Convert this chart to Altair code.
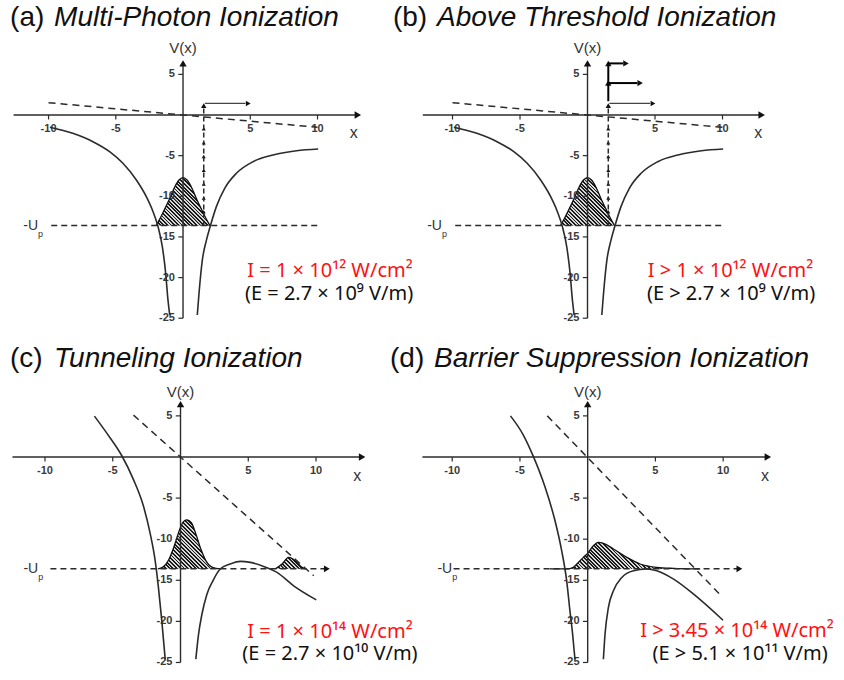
import math
import altair as alt
import pandas as pd

# ---------------- values ----------------
X_TICKS = [-10, -5, 5, 10]
X_TICK_LABELS = ["-10", "-5", "5", "10"]
Y_TICKS = [5, -5, -10, -15, -20, -25]
Y_TICK_LABELS = ["5", "-5", "-10", "-15", "-20", "-25"]
UP_LEVEL = -13.6  # -U_p

# (a), (b): Coulomb well in a weak field
AB_LEFT_X = [-9.9, -8.2, -6.7, -5.46, -4.47, -3.47, -2.73, -2.23, -1.86, -1.54, -1.29, -1.12, -0.99]
AB_LEFT_Y = [-1.5, -2.25, -3.28, -4.51, -5.94, -7.99, -10.04, -11.89, -13.73, -16.19, -19.47, -22.75, -24.6]
AB_RIGHT_X = [1.06, 1.19, 1.44, 1.74, 2.03, 2.48, 3.10, 3.97, 5.21, 6.70, 8.44, 10.05]
AB_RIGHT_Y = [-24.6, -21.9, -17.8, -15.4, -13.65, -11.27, -9.02, -7.17, -5.74, -4.92, -4.39, -4.18]
AB_FIELD_X = [-10.0, 10.0]
AB_FIELD_Y = [1.52, -1.52]
AB_WP_X = [-2.0, -1.7, -1.4, -1.0, -0.6, -0.3, 0.0, 0.3, 0.6, 1.0, 1.4, 1.7, 2.0]
AB_WP_Y = [-13.6, -12.7, -11.7, -10.3, -8.8, -8.0, -7.7, -8.0, -8.8, -10.3, -11.7, -12.7, -13.6]
MP_X = 1.54
MP_STEPS_Y = [-11.9, -10.2, -8.5, -6.8, -5.1, -3.4, -1.7]
MP_TOP_Y = 1.15
ELECTRON_Y = 1.43
ELECTRON_X = [1.62, 4.85]
ATI_LINE_Y = [1.7, 6.35]
ATI_STEPS_Y = [3.93, 6.35]
ATI_X_END = [3.9, 2.85]

# (c): tunneling
C_LEFT_X = [-6.35, -5.44, -4.33, -3.47, -2.73, -2.24, -1.87, -1.63, -1.38, -1.13]
C_LEFT_Y = [4.97, 2.9, 0.15, -2.75, -6.0, -9.3, -12.62, -15.87, -19.94, -24.6]
C_RIGHT_X = [1.13, 1.33, 1.58, 1.95, 2.39, 2.93, 3.67, 4.41, 5.15, 6.13, 7.12, 8.35, 10.02]
C_RIGHT_Y = [-24.6, -21.57, -19.13, -16.69, -15.06, -13.63, -13.02, -12.70, -12.82, -13.31, -14.04, -15.67, -17.38]
C_FIELD_X = [-3.47, 9.83]
C_FIELD_Y = [5.09, -14.45]
C_WP_X = [-1.67, -1.3, -0.9, -0.5, -0.1, 0.2, 0.47, 0.8, 1.1, 1.5, 1.9, 2.4, 2.93]
C_WP_Y = [-13.6, -13.4, -12.6, -11.0, -9.0, -7.9, -7.65, -8.0, -9.2, -11.2, -12.7, -13.45, -13.6]
C_WP2_X = [7.0, 7.49, 7.98, 8.47, 8.97, 9.21]
C_WP2_Y = [-13.6, -13.02, -12.21, -12.62, -13.43, -13.6]

# (d): barrier suppression
D_LEFT_X = [-5.70, -4.76, -4.02, -3.16, -2.42, -1.92, -1.55, -1.31, -1.11, -0.94]
D_LEFT_Y = [5.0, 2.7, 0.1, -3.6, -7.7, -11.4, -15.06, -18.72, -21.57, -24.6]
D_RIGHT_X = [1.16, 1.28, 1.53, 1.90, 2.52, 3.38, 4.36, 5.10, 6.34, 7.82, 9.99]
D_RIGHT_Y = [-24.6, -21.57, -18.3, -16.28, -14.65, -13.84, -13.63, -13.84, -14.86, -16.69, -19.86]
D_FIELD_X = [-2.98, 9.79]
D_FIELD_Y = [5.0, -16.77]
D_WP_X = [-2.8, -1.43, -1.06, -0.69, -0.32, 0.0, 0.42, 0.79, 1.16, 1.90, 2.89, 3.87, 5.10, 6.34, 7.5, 8.3]
D_WP_Y = [-13.6, -13.6, -13.43, -12.82, -12.21, -11.72, -10.79, -10.38, -10.5, -11.19, -12.21, -13.02, -13.43, -13.55, -13.6, -13.6]

TAGS = ["(a)", "(b)", "(c)", "(d)"]
NAMES = ["Multi-Photon Ionization", "Above Threshold Ionization",
         "Tunneling Ionization", "Barrier Suppression Ionization"]
INTENSITY = ["I = 1 × 10¹² W/cm²", "I > 1 × 10¹² W/cm²",
             "I = 1 × 10¹⁴ W/cm²", "I > 3.45 × 10¹⁴ W/cm²"]
FIELD_TXT = ["(E = 2.7 × 10⁹ V/m)", "(E > 2.7 × 10⁹ V/m)",
             "(E = 2.7 × 10¹⁰ V/m)", "(E > 5.1 × 10¹¹ V/m)"]

# ---------------- layout / style ----------------
FONT = "Liberation Sans"
NOTE_FONT = "Noto Sans"
INK = "#2b2b2b"

PANELS = [
    dict(W=422, H=340, xdom=[-13.61, 17.77], ydom=[-27.68, 14.15], xa=[-12.6, 13.0], ytop=6.35,
         xlab=(12.7, -2.2), vx=8.24, tag=(-12.86, 10.95), upx=-10.78, up_line=[-9.8, 10.05], up_arrow=False,
         txt=[(10.93, -19.2), (10.86, -22.05)]),
    dict(W=422, H=340, xdom=[-12.26, 19.0], ydom=[-27.68, 14.15], xa=[-12.2, 12.9], ytop=6.35,
         xlab=(12.65, -2.2), vx=8.24, tag=(-14.41, 10.95), upx=-10.78, up_line=[-9.8, 10.05], up_arrow=False,
         txt=[(10.59, -19.2), (10.63, -22.05)]),
    dict(W=422, H=340, xdom=[-13.32, 17.82], ydom=[-27.13, 14.23], xa=[-12.4, 13.4], ytop=6.43,
         xlab=(13.05, -2.3), vx=7.94, tag=(-12.58, 10.95), upx=-10.5, up_line=[-9.6, 10.8], up_arrow=True,
         txt=[(11.03, -21.3), (11.03, -24.0)]),
    dict(W=422, H=340, xdom=[-12.23, 18.92], ydom=[-27.13, 14.23], xa=[-12.2, 13.3], ytop=6.43,
         xlab=(13.08, -2.3), vx=7.94, tag=(-14.59, 10.95), upx=-10.0, up_line=[-9.9, 11.2], up_arrow=True,
         txt=[(11.02, -21.2), (11.25, -24.0)]),
]


def hatch(xv, yv, base, c, spacing=2.6, dark="#1a1a1a", light="#d8d8d8"):
    pxx = c["W"] / (c["xdom"][1] - c["xdom"][0])
    pxy = c["H"] / (c["ydom"][1] - c["ydom"][0])
    w = (max(xv) - min(xv)) * pxx
    h = (max(yv) - base) * pxy
    r = h / w
    a = (1 + r) / (1 + r * r)
    n = max(4, round((w + h) / (math.sqrt(2) * spacing)))
    stops = []
    for k in range(n):
        o0, o1, o2 = k / n, (k + 0.5) / n, (k + 1) / n
        stops += [{"color": dark, "offset": round(o0, 4)}, {"color": dark, "offset": round(o1, 4)},
                  {"color": light, "offset": round(o1 + 1e-4, 4)}, {"color": light, "offset": round(o2 - 1e-4, 4)}]
    return alt.LinearGradient(gradient="linear", stops=[alt.GradientStop(**s) for s in stops],
                              x1=0, y1=1, x2=round(a, 4), y2=round(1 - a * r, 4))


def lines_df(groups):
    rows = []
    for g, (xs, ys) in enumerate(groups):
        for i, (x, y) in enumerate(zip(xs, ys)):
            rows.append({"x": x, "y": y, "g": g, "i": i})
    return pd.DataFrame(rows)


def panel(k, c, curves, field, packets, extras):
    xs = alt.Scale(domain=c["xdom"], nice=False, zero=False)
    ys = alt.Scale(domain=c["ydom"], nice=False, zero=False)
    X = lambda f="x": alt.X(f"{f}:Q", scale=xs, axis=None)
    Y = lambda f="y": alt.Y(f"{f}:Q", scale=ys, axis=None)
    layers = []

    # wave packets (hatched) -- drawn first, underneath everything
    for (px, py) in packets:
        df = pd.DataFrame({"x": px, "y": py, "b": [UP_LEVEL] * len(px)})
        layers.append(alt.Chart(df).mark_area(color="#6e6e6e", interpolate="monotone", opacity=1)
                      .encode(x=X(), y=Y(), y2="b:Q"))
        layers.append(alt.Chart(df).mark_area(color=hatch(px, py, UP_LEVEL, c), interpolate="monotone",
                                              opacity=1)
                      .encode(x=X(), y=Y(), y2="b:Q"))
        layers.append(alt.Chart(df).mark_line(color="#111", strokeWidth=1.3, interpolate="monotone")
                      .encode(x=X(), y=Y()))

    # axes
    layers.append(alt.Chart(pd.DataFrame({"x": [c["xa"][0]], "x2": [c["xa"][1]], "y": [0]}))
                  .mark_rule(color=INK, strokeWidth=1.4).encode(x=X(), x2="x2:Q", y=Y()))
    layers.append(alt.Chart(pd.DataFrame({"x": [0], "y": [-25], "y2": [c["ytop"]]}))
                  .mark_rule(color=INK, strokeWidth=1.4).encode(x=X(), y=Y(), y2="y2:Q"))
    # ticks
    layers.append(alt.Chart(pd.DataFrame({"x": X_TICKS, "y": [0] * 4, "y2": [-0.55] * 4}))
                  .mark_rule(color=INK, strokeWidth=1.2).encode(x=X(), y=Y(), y2="y2:Q"))
    layers.append(alt.Chart(pd.DataFrame({"y": Y_TICKS, "x": [0] * 6, "x2": [-0.35] * 6}))
                  .mark_rule(color=INK, strokeWidth=1.2).encode(x=X(), x2="x2:Q", y=Y()))
    layers.append(alt.Chart(pd.DataFrame({"x": X_TICKS, "y": [-1.75] * 4, "t": X_TICK_LABELS}))
                  .mark_text(font=FONT, fontSize=11, fontWeight="bold", color="#3a3a3a", baseline="middle")
                  .encode(x=X(), y=Y(), text="t:N"))
    layers.append(alt.Chart(pd.DataFrame({"y": Y_TICKS, "x": [-0.6] * 6, "t": Y_TICK_LABELS}))
                  .mark_text(font=FONT, fontSize=11, fontWeight="bold", color="#3a3a3a", baseline="middle",
                             align="right").encode(x=X(), y=Y(), text="t:N"))
    # axis labels
    layers.append(alt.Chart(pd.DataFrame({"x": [0, c["xlab"][0]], "y": [c["vx"], c["xlab"][1]],
                                          "t": ["V(x)", "x"], "s": [15, 16]}))
                  .mark_text(font=FONT, color="#333", baseline="middle")
                  .encode(x=X(), y=Y(), text="t:N", size=alt.Size("s:Q", scale=None)))

    # -U_p level
    layers.append(alt.Chart(pd.DataFrame({"x": [c["up_line"][0]], "x2": [c["up_line"][1]], "y": [UP_LEVEL]}))
                  .mark_rule(color=INK, strokeWidth=1.4, strokeDash=[6, 4]).encode(x=X(), x2="x2:Q", y=Y()))
    layers.append(alt.Chart(pd.DataFrame({"x": [c["upx"]], "y": [UP_LEVEL], "t": ["-U"]}))
                  .mark_text(font=FONT, fontSize=14, color="#333", align="right", baseline="middle")
                  .encode(x=X(), y=Y(), text="t:N"))
    layers.append(alt.Chart(pd.DataFrame({"x": [c["upx"]], "y": [UP_LEVEL], "t": ["p"]}))
                  .mark_text(font=FONT, fontSize=9, color="#333", align="left", baseline="middle", dx=0, dy=8)
                  .encode(x=X(), y=Y(), text="t:N"))

    # field line
    layers.append(alt.Chart(lines_df([field]))
                  .mark_line(color=INK, strokeWidth=1.5, strokeDash=[7, 5])
                  .encode(x=X(), y=Y(), order="i:Q"))

    # potential
    layers.append(alt.Chart(lines_df(curves))
                  .mark_line(color=INK, strokeWidth=1.6, interpolate="monotone")
                  .encode(x=X(), y=Y(), detail="g:N", order="i:Q"))

    # arrow heads for axes / -U_p
    heads = [(c["xa"][1], 0, "triangle-right", 55), (0, c["ytop"], "triangle-up", 55)]
    if c["up_arrow"]:
        heads.append((c["up_line"][1], UP_LEVEL, "triangle-right", 45))
    heads += extras.get("heads", [])
    hdf = pd.DataFrame(heads, columns=["x", "y", "shape", "sz"])
    layers.append(alt.Chart(hdf).mark_point(filled=True, color="#111", opacity=1)
                  .encode(x=X(), y=Y(), shape=alt.Shape("shape:N", scale=None),
                          size=alt.Size("sz:Q", scale=None)))

    for seg in extras.get("segments", []):
        (x0, y0, x1, y1, col, wdt, dash) = seg
        kw = dict(color=col, strokeWidth=wdt)
        if dash:
            kw["strokeDash"] = [5, 3]
        layers.append(alt.Chart(pd.DataFrame({"x": [x0], "y": [y0], "x2": [x1], "y2": [y1]}))
                      .mark_rule(**kw).encode(x=X(), y=Y(), x2="x2:Q", y2="y2:Q"))

    # titles
    layers.append(alt.Chart(pd.DataFrame({"x": [c["tag"][0]], "y": [c["tag"][1]], "t": [TAGS[k]]}))
                  .mark_text(font=FONT, fontSize=28, color="#111", align="left", baseline="alphabetic")
                  .encode(x=X(), y=Y(), text="t:N"))
    layers.append(alt.Chart(pd.DataFrame({"x": [c["tag"][0]], "y": [c["tag"][1]], "t": [NAMES[k]]}))
                  .mark_text(font=FONT, fontSize=28, fontStyle="italic", color="#111", align="left",
                             baseline="alphabetic", dx=44)
                  .encode(x=X(), y=Y(), text="t:N"))
    # intensity / field annotations
    layers.append(alt.Chart(pd.DataFrame({"x": [c["txt"][0][0]], "y": [c["txt"][0][1]], "t": [INTENSITY[k]]}))
                  .mark_text(font=NOTE_FONT, fontSize=20, color="#ff1111", baseline="middle")
                  .encode(x=X(), y=Y(), text="t:N"))
    layers.append(alt.Chart(pd.DataFrame({"x": [c["txt"][1][0]], "y": [c["txt"][1][1]], "t": [FIELD_TXT[k]]}))
                  .mark_text(font=NOTE_FONT, fontSize=20, color="#111", baseline="middle")
                  .encode(x=X(), y=Y(), text="t:N"))

    return alt.layer(*layers).properties(width=c["W"], height=c["H"])


def mp_extras(ati=False):
    heads = [(MP_X, y, "triangle-up", 16) for y in MP_STEPS_Y]
    heads.append((MP_X, MP_TOP_Y, "triangle-up", 30))
    heads.append((ELECTRON_X[1], ELECTRON_Y, "triangle-right", 30))
    segs = [(MP_X, UP_LEVEL, MP_X, MP_TOP_Y - 0.3, INK, 1.5, True),
            (ELECTRON_X[0], ELECTRON_Y, ELECTRON_X[1] - 0.2, ELECTRON_Y, "#444", 1.2, False)]
    if ati:
        segs.append((MP_X, ATI_LINE_Y[0], MP_X, ATI_LINE_Y[1] - 0.3, "#000", 2.0, False))
        for y, xe in zip(ATI_STEPS_Y, ATI_X_END):
            heads.append((MP_X, y, "triangle-up", 40))
            heads.append((xe, y, "triangle-right", 40))
            segs.append((MP_X, y, xe - 0.2, y, "#000", 2.0, False))
    return {"heads": heads, "segments": segs}


pa = panel(0, PANELS[0], [(AB_LEFT_X, AB_LEFT_Y), (AB_RIGHT_X, AB_RIGHT_Y)], (AB_FIELD_X, AB_FIELD_Y),
           [(AB_WP_X, AB_WP_Y)], mp_extras(False))
pb = panel(1, PANELS[1], [(AB_LEFT_X, AB_LEFT_Y), (AB_RIGHT_X, AB_RIGHT_Y)], (AB_FIELD_X, AB_FIELD_Y),
           [(AB_WP_X, AB_WP_Y)], mp_extras(True))
pc = panel(2, PANELS[2], [(C_LEFT_X, C_LEFT_Y), (C_RIGHT_X, C_RIGHT_Y)], (C_FIELD_X, C_FIELD_Y),
           [(C_WP_X, C_WP_Y), (C_WP2_X, C_WP2_Y)], {})
pd_ = panel(3, PANELS[3], [(D_LEFT_X, D_LEFT_Y), (D_RIGHT_X, D_RIGHT_Y)], (D_FIELD_X, D_FIELD_Y),
            [(D_WP_X, D_WP_Y)], {})

chart = (alt.concat(pa, pb, pc, pd_, columns=2, spacing=0, bounds="flush")
         .properties(padding=0, background="white")
         .configure_view(stroke=None))

chart.save("out.html", embed_options={"renderer": "svg", "actions": False})
